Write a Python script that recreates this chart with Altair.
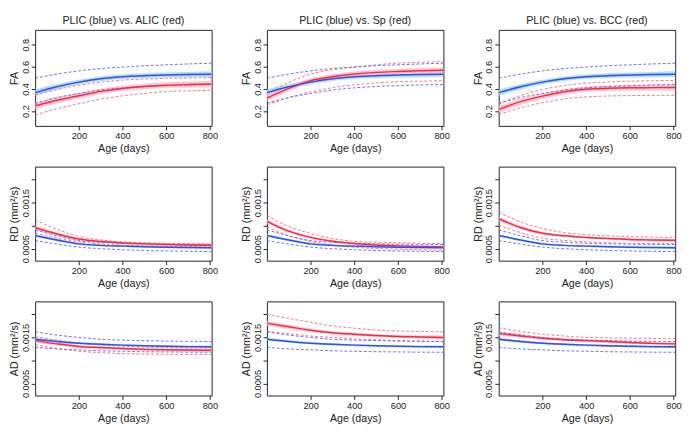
import altair as alt
import pandas as pd

# ---------------- data ----------------
AGES = [0, 100, 200, 300, 400, 500, 600, 700, 808]

COMP_REGIONS = ["ALIC", "Sp", "BCC"]
MEASURES = ["FA", "RD", "AD"]

# ---- FA ----
PLIC_FA_MID = [0.367, 0.420, 0.462, 0.492, 0.510, 0.520, 0.526, 0.530, 0.533]
PLIC_FA_UP = [0.497, 0.535, 0.563, 0.584, 0.598, 0.610, 0.618, 0.626, 0.633]
PLIC_FA_LO = [0.270, 0.322, 0.359, 0.390, 0.410, 0.422, 0.430, 0.436, 0.440]
PLIC_FA_HW = [0.028, 0.024, 0.022, 0.021, 0.021, 0.022, 0.023, 0.024, 0.026]

ALIC_FA_MID = [0.248, 0.298, 0.338, 0.378, 0.405, 0.422, 0.434, 0.440, 0.444]
ALIC_FA_UP = [0.345, 0.395, 0.433, 0.462, 0.480, 0.490, 0.496, 0.499, 0.502]
ALIC_FA_LO = [0.165, 0.222, 0.266, 0.308, 0.338, 0.360, 0.376, 0.383, 0.387]
ALIC_FA_HW = [0.030, 0.027, 0.025, 0.024, 0.024, 0.025, 0.026, 0.027, 0.029]

SP_FA_MID = [0.317, 0.405, 0.474, 0.510, 0.535, 0.550, 0.558, 0.564, 0.569]
SP_FA_UP = [0.360, 0.460, 0.535, 0.573, 0.597, 0.618, 0.633, 0.641, 0.647]
SP_FA_LO = [0.256, 0.322, 0.373, 0.412, 0.437, 0.455, 0.465, 0.470, 0.474]
SP_FA_HW = [0.028, 0.025, 0.023, 0.022, 0.022, 0.023, 0.024, 0.025, 0.027]

BCC_FA_MID = [0.215, 0.285, 0.335, 0.375, 0.398, 0.406, 0.410, 0.412, 0.414]
BCC_FA_UP = [0.263, 0.340, 0.395, 0.430, 0.452, 0.463, 0.470, 0.474, 0.477]
BCC_FA_LO = [0.170, 0.230, 0.275, 0.310, 0.328, 0.336, 0.340, 0.342, 0.343]
BCC_FA_HW = [0.030, 0.027, 0.025, 0.024, 0.024, 0.024, 0.025, 0.026, 0.028]

# ---- RD ----
PLIC_RD_MID = [0.000787, 0.000690, 0.000605, 0.000572, 0.000556, 0.000542, 0.000532, 0.000525, 0.000520]
PLIC_RD_UP = [0.000906, 0.000780, 0.000675, 0.000640, 0.000618, 0.000605, 0.000598, 0.000594, 0.000590]
PLIC_RD_LO = [0.000675, 0.000600, 0.000535, 0.000500, 0.000478, 0.000462, 0.000452, 0.000444, 0.000437]
PLIC_RD_HW = [0.000030, 0.000026, 0.000023, 0.000021, 0.000020, 0.000020, 0.000021, 0.000022, 0.000024]

ALIC_RD_MID = [0.000955, 0.000820, 0.000710, 0.000655, 0.000626, 0.000605, 0.000590, 0.000582, 0.000577]
ALIC_RD_UP = [0.001120, 0.000920, 0.000766, 0.000690, 0.000650, 0.000630, 0.000618, 0.000610, 0.000605]
ALIC_RD_LO = [0.000836, 0.000730, 0.000650, 0.000600, 0.000575, 0.000560, 0.000550, 0.000545, 0.000540]
ALIC_RD_HW = [0.000045, 0.000036, 0.000030, 0.000026, 0.000024, 0.000024, 0.000025, 0.000027, 0.000030]

SP_RD_MID = [0.001094, 0.000880, 0.000745, 0.000660, 0.000612, 0.000580, 0.000562, 0.000550, 0.000540]
SP_RD_UP = [0.001220, 0.000980, 0.000830, 0.000720, 0.000660, 0.000640, 0.000630, 0.000618, 0.000612]
SP_RD_LO = [0.000975, 0.000780, 0.000660, 0.000580, 0.000530, 0.000505, 0.000490, 0.000475, 0.000465]
SP_RD_HW = [0.000045, 0.000036, 0.000030, 0.000026, 0.000024, 0.000024, 0.000025, 0.000027, 0.000030]

BCC_RD_MID = [0.001150, 0.000960, 0.000836, 0.000780, 0.000745, 0.000720, 0.000700, 0.000690, 0.000682]
BCC_RD_UP = [0.001290, 0.001080, 0.000940, 0.000850, 0.000805, 0.000780, 0.000765, 0.000752, 0.000745]
BCC_RD_LO = [0.001010, 0.000850, 0.000730, 0.000680, 0.000650, 0.000630, 0.000618, 0.000610, 0.000605]
BCC_RD_HW = [0.000045, 0.000036, 0.000030, 0.000026, 0.000024, 0.000024, 0.000025, 0.000027, 0.000030]

# ---- AD ----
PLIC_AD_MID = [0.001458, 0.001410, 0.001374, 0.001350, 0.001332, 0.001318, 0.001308, 0.001300, 0.001297]
PLIC_AD_UP = [0.001620, 0.001550, 0.001500, 0.001460, 0.001440, 0.001430, 0.001420, 0.001415, 0.001410]
PLIC_AD_LO = [0.001283, 0.001250, 0.001230, 0.001210, 0.001200, 0.001190, 0.001185, 0.001180, 0.001178]
PLIC_AD_HW = [0.000032, 0.000028, 0.000025, 0.000023, 0.000022, 0.000022, 0.000023, 0.000025, 0.000027]

ALIC_AD_MID = [0.001430, 0.001360, 0.001304, 0.001280, 0.001260, 0.001240, 0.001230, 0.001225, 0.001220]
ALIC_AD_UP = [0.001514, 0.001440, 0.001380, 0.001340, 0.001310, 0.001290, 0.001280, 0.001275, 0.001270]
ALIC_AD_LO = [0.001340, 0.001260, 0.001200, 0.001170, 0.001150, 0.001140, 0.001135, 0.001130, 0.001130]
ALIC_AD_HW = [0.000045, 0.000038, 0.000033, 0.000030, 0.000029, 0.000029, 0.000030, 0.000032, 0.000035]

SP_AD_MID = [0.001808, 0.001730, 0.001654, 0.001600, 0.001570, 0.001540, 0.001520, 0.001510, 0.001500]
SP_AD_UP = [0.002000, 0.001910, 0.001830, 0.001750, 0.001700, 0.001660, 0.001640, 0.001630, 0.001620]
SP_AD_LO = [0.001633, 0.001580, 0.001530, 0.001500, 0.001470, 0.001450, 0.001430, 0.001420, 0.001410]
SP_AD_HW = [0.000050, 0.000043, 0.000038, 0.000035, 0.000034, 0.000034, 0.000035, 0.000037, 0.000040]

BCC_AD_MID = [0.001584, 0.001530, 0.001480, 0.001450, 0.001430, 0.001410, 0.001390, 0.001370, 0.001360]
BCC_AD_UP = [0.001710, 0.001630, 0.001570, 0.001530, 0.001500, 0.001490, 0.001485, 0.001480, 0.001480]
BCC_AD_LO = [0.001480, 0.001420, 0.001380, 0.001350, 0.001330, 0.001310, 0.001300, 0.001295, 0.001290]
BCC_AD_HW = [0.000045, 0.000038, 0.000033, 0.000030, 0.000029, 0.000029, 0.000030, 0.000032, 0.000035]

X_TICKS = [200, 400, 600, 800]
FA_TICKS = [0.2, 0.4, 0.6, 0.8]
DIFF_TICKS = [0.0005, 0.001, 0.0015, 0.002]

Y_TITLES = {"FA": "FA", "RD": "RD (mm²/s)", "AD": "AD (mm²/s)"}
Y_DOMAINS = {"FA": [0.066, 0.934], "RD": [0.00024, 0.00228], "AD": [0.00024, 0.00228]}

CURVES = {
    ("PLIC", "FA"): (PLIC_FA_MID, PLIC_FA_UP, PLIC_FA_LO, PLIC_FA_HW),
    ("ALIC", "FA"): (ALIC_FA_MID, ALIC_FA_UP, ALIC_FA_LO, ALIC_FA_HW),
    ("Sp", "FA"): (SP_FA_MID, SP_FA_UP, SP_FA_LO, SP_FA_HW),
    ("BCC", "FA"): (BCC_FA_MID, BCC_FA_UP, BCC_FA_LO, BCC_FA_HW),
    ("PLIC", "RD"): (PLIC_RD_MID, PLIC_RD_UP, PLIC_RD_LO, PLIC_RD_HW),
    ("ALIC", "RD"): (ALIC_RD_MID, ALIC_RD_UP, ALIC_RD_LO, ALIC_RD_HW),
    ("Sp", "RD"): (SP_RD_MID, SP_RD_UP, SP_RD_LO, SP_RD_HW),
    ("BCC", "RD"): (BCC_RD_MID, BCC_RD_UP, BCC_RD_LO, BCC_RD_HW),
    ("PLIC", "AD"): (PLIC_AD_MID, PLIC_AD_UP, PLIC_AD_LO, PLIC_AD_HW),
    ("ALIC", "AD"): (ALIC_AD_MID, ALIC_AD_UP, ALIC_AD_LO, ALIC_AD_HW),
    ("Sp", "AD"): (SP_AD_MID, SP_AD_UP, SP_AD_LO, SP_AD_HW),
    ("BCC", "AD"): (BCC_AD_MID, BCC_AD_UP, BCC_AD_LO, BCC_AD_HW),
}

BLUE = "#2f50f0"
RED = "#f52a45"
BLUE_BAND = "#a6d8e8"
RED_BAND = "#ffbccb"
BLUE_DASH = "#5c5ff0"
RED_DASH = "#f26874"

W = 182
HEIGHTS = [99, 97, 97]


def make_panel(measure, comp, show_title, height):
    rows = []
    for grp, key in (("blue", "PLIC"), ("red", comp)):
        mid, up, lo, hw = CURVES[(key, measure)]
        for a, m, u, l, h in zip(AGES, mid, up, lo, hw):
            rows.append({"grp": grp, "age": a, "mid": m, "up": u, "lo": l,
                         "blo": m - h, "bhi": m + h})
    df = pd.DataFrame(rows)

    if measure == "FA":
        yaxis = alt.Axis(values=FA_TICKS, title=Y_TITLES[measure], format=".1f")
    else:
        yaxis = alt.Axis(
            values=DIFF_TICKS, title=Y_TITLES[measure],
            labelExpr="round(datum.value*10000) == 5 ? '0.0005' : (round(datum.value*10000) == 15 ? '0.0015' : '')",
        )
    xs = alt.X("age:Q", scale=alt.Scale(domain=[0, 808], nice=False, zero=False),
               axis=alt.Axis(values=X_TICKS, title="Age (days)", labelFlush=False))
    ysc = alt.Scale(domain=Y_DOMAINS[measure], nice=False, zero=False)

    base = alt.Chart(df)
    layers = []
    for grp, band_col in (("blue", BLUE_BAND), ("red", RED_BAND)):
        sub = base.transform_filter(alt.datum.grp == grp)
        layers.append(sub.mark_area(color=band_col, opacity=0.85, interpolate="monotone", clip=True).encode(
            x=xs, y=alt.Y("blo:Q", scale=ysc, axis=yaxis), y2="bhi:Q"))
    for grp, dash_col in (("red", RED_DASH), ("blue", BLUE_DASH)):
        sub = base.transform_filter(alt.datum.grp == grp)
        for col in ("up", "lo"):
            layers.append(sub.mark_line(color=dash_col, strokeWidth=0.9, strokeDash=[3, 2],
                                        interpolate="monotone", clip=True).encode(
                x=xs, y=alt.Y(f"{col}:Q", scale=ysc, axis=yaxis)))
    for grp, line_col in (("red", RED), ("blue", BLUE)):
        sub = base.transform_filter(alt.datum.grp == grp)
        layers.append(sub.mark_line(color=line_col, strokeWidth=1.5,
                                    interpolate="monotone", clip=True).encode(
            x=xs, y=alt.Y("mid:Q", scale=ysc, axis=yaxis)))

    props = dict(width=W, height=height)
    if show_title:
        props["title"] = f"PLIC (blue) vs. {comp} (red)"
    return alt.layer(*layers).properties(**props)


rows_ch = []
for i, measure in enumerate(MEASURES):
    row = alt.hconcat(*[make_panel(measure, comp, i == 0, HEIGHTS[i]) for comp in COMP_REGIONS],
                      spacing=22)
    rows_ch.append(row)

chart = alt.vconcat(*rows_ch, spacing=12).properties(padding=0).configure_view(
    stroke="#222222", strokeWidth=1
).configure_axis(
    grid=False, domain=False, tickColor="#222222", tickSize=4, tickWidth=1,
    labelFont="Liberation Sans", labelFontSize=9.5, labelColor="#222222", labelPadding=1,
    titleFont="Liberation Sans", titleFontSize=11, titleFontWeight="normal", titleColor="#222222",
).configure_axisY(
    labelAngle=270, titlePadding=1,
).configure_axisX(
    titlePadding=3,
).configure_title(
    font="Liberation Sans", fontSize=11, fontWeight="normal", color="#222222", offset=0, anchor="middle",
)

chart.save("out.html", embed_options={"renderer": "svg", "actions": False})
